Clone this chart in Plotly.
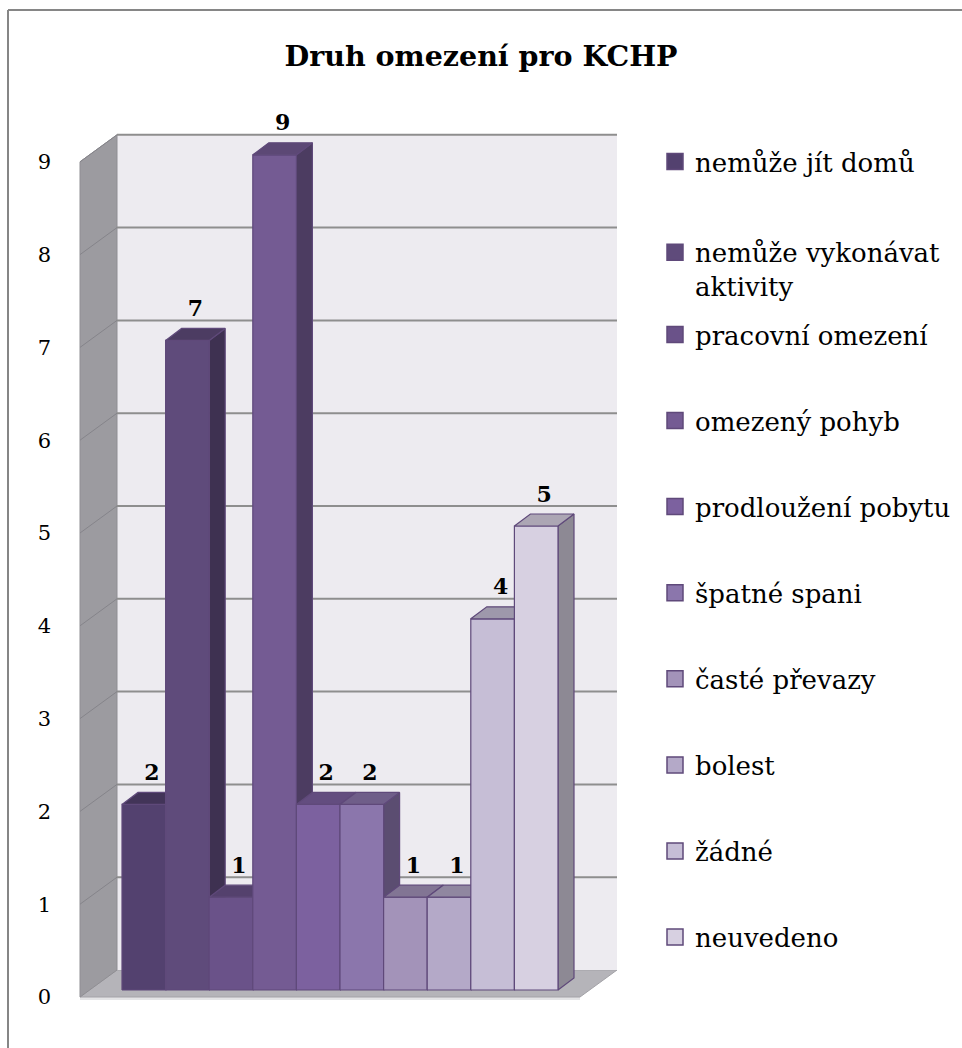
import textwrap
import plotly.graph_objects as go

# ---------------- data ----------------
TITLE = "Druh omezení pro KCHP"
CATEGORIES = [
    "nemůže jít domů",
    "nemůže vykonávat aktivity",
    "pracovní omezení",
    "omezený pohyb",
    "prodloužení pobytu",
    "špatné spani",
    "časté převazy",
    "bolest",
    "žádné",
    "neuvedeno",
]
VALUES = [2, 7, 1, 9, 2, 2, 1, 1, 4, 5]
Y_TICKS = list(range(0, 10))

# ---------------- style ----------------
COLORS = ["#53416F", "#5F4B7B", "#6A5289", "#745B93", "#7C619F",
          "#8B76AC", "#A393B9", "#B4A9C8", "#C6BED6", "#D7D0E1"]
OUTLINE = "#5F497A"
SERIF = "DejaVu Serif"
W, H = 962, 1048

# pixel geometry of the pseudo-3D projection
U0_PX, PX_U = 122.0, 43.6      # x pixel of u=0, pixels per bar slot
V0_PX, PX_V = 990.0, 92.8      # y pixel of v=0, pixels per value unit
ML, MR, MT, MB = 60, 322, 100, 38
PLOT_L, PLOT_R = ML, W - MR
PLOT_T, PLOT_B = MT, H - MB


def u_px(p):
    return (p - U0_PX) / PX_U


def v_px(p):
    return (V0_PX - p) / PX_V


DU, DV = 16 / PX_U, 12 / PX_V            # bar depth
FU, FV = -9.6 / PX_U, -7 / PX_V          # front plane of the box
BU, BV = 27.4 / PX_U, 20 / PX_V          # back plane of the box
UL = u_px(80) - FU                       # left end of the box
UR = u_px(580) - FU                      # right end of the box
VMAX = max(Y_TICKS)


def shade(hex_color, f):
    h = hex_color.lstrip("#")
    r, g, b = (int(h[i:i + 2], 16) for i in (0, 2, 4))
    return "#%02X%02X%02X" % (int(r * f), int(g * f), int(b * f))


def path(points):
    return "M " + " L ".join(f"{x},{y}" for x, y in points) + " Z"


fig = go.Figure()

# ---------------- walls & floor (shapes below the traces) ----------------
shapes = []
shapes.append(dict(type="path", xref="x", yref="y", layer="below",
                   path=path([(UL + FU, FV), (UR + FU, FV),
                              (UR + FU, FV - 3 / PX_V), (UL + FU, FV - 3 / PX_V)]),
                   fillcolor="#E4E4E6", line=dict(width=0)))
shapes.append(dict(type="path", xref="x", yref="y", layer="below",
                   path=path([(UL + FU, FV), (UR + FU, FV), (UR + BU, BV), (UL + BU, BV)]),
                   fillcolor="#B5B4B9", line=dict(color="#A3A2A7", width=1)))
shapes.append(dict(type="path", xref="x", yref="y", layer="below",
                   path=path([(UL + BU, BV), (UR + BU, BV), (UR + BU, VMAX + BV), (UL + BU, VMAX + BV)]),
                   fillcolor="#EDEBF0", line=dict(width=0)))
shapes.append(dict(type="path", xref="x", yref="y", layer="below",
                   path=path([(UL + FU, FV), (UL + BU, BV), (UL + BU, VMAX + BV), (UL + FU, VMAX + FV)]),
                   fillcolor="#9C9BA0", line=dict(color="#8F8E93", width=1)))
for k in Y_TICKS[1:]:
    shapes.append(dict(type="line", xref="x", yref="y", layer="below",
                       x0=UL + BU, x1=UR + BU, y0=k + BV, y1=k + BV,
                       line=dict(color="#8E8E8E", width=2)))
    shapes.append(dict(type="line", xref="x", yref="y", layer="below",
                       x0=UL + FU, x1=UL + BU, y0=k + FV, y1=k + BV,
                       line=dict(color="#85848A", width=1)))


def xp(p):
    return (p - PLOT_L) / (PLOT_R - PLOT_L)


def yp(p):
    return (PLOT_B - p) / (PLOT_B - PLOT_T)


# outer chart border (top and left)
shapes.append(dict(type="line", xref="paper", yref="paper",
                   x0=xp(8), x1=xp(W + 5), y0=yp(10), y1=yp(10),
                   line=dict(color="#868686", width=2)))
shapes.append(dict(type="line", xref="paper", yref="paper",
                   x0=xp(8), x1=xp(8), y0=yp(10), y1=yp(H + 5),
                   line=dict(color="#868686", width=2)))

# ---------------- 3D bars ----------------
for i, (name, val, col) in enumerate(zip(CATEGORIES, VALUES, COLORS)):
    x0, x1 = i, i + 1
    side = [(x1, 0), (x1 + DU, DV), (x1 + DU, val + DV), (x1, val), (x1, 0)]
    front = [(x0, 0), (x1, 0), (x1, val), (x0, val), (x0, 0)]
    top = [(x0, val), (x1, val), (x1 + DU, val + DV), (x0 + DU, val + DV), (x0, val)]
    for pts, f, hov in ((side, 0.66, False), (front, 1.0, True), (top, 0.8, False)):
        fig.add_trace(go.Scatter(
            x=[p[0] for p in pts], y=[p[1] for p in pts],
            mode="lines", fill="toself", fillcolor=shade(col, f),
            line=dict(color=OUTLINE, width=1.2),
            legendgroup=f"g{i}", showlegend=False,
            hoverinfo="text" if hov else "skip",
            hoveron="fills",
            text=f"{name}: {val}",
        ))

# data labels
fig.add_trace(go.Scatter(
    x=[i + 0.5 + DU / 2 for i in range(len(VALUES))],
    y=[v + 30 / PX_V for v in VALUES],
    mode="text", text=[str(v) for v in VALUES],
    textposition="middle center",
    textfont=dict(family=SERIF, size=22, color="#000000", weight="bold"),
    showlegend=False, hoverinfo="skip",
))

# legend entries
for i, (name, col) in enumerate(zip(CATEGORIES, COLORS)):
    fig.add_trace(go.Scatter(
        x=[None], y=[None], mode="markers",
        marker=dict(symbol="square", size=16, color=col,
                    line=dict(color=OUTLINE, width=1.5)),
        name="<br>".join(textwrap.wrap(name, 18)),
        legendgroup=f"g{i}",
        legend="legend" if i < 2 else "legend2",
    ))

legend_common = dict(
    font=dict(family=SERIF, size=26, color="#000000"),
    traceorder="grouped",
    xref="container", yref="container",
    xanchor="left", yanchor="top",
    bgcolor="rgba(0,0,0,0)", borderwidth=0, valign="top",
    itemclick=False, itemdoubleclick=False,
    maxheight=900,
)

fig.update_layout(
    width=W, height=H,
    margin=dict(l=ML, r=MR, t=MT, b=MB),
    paper_bgcolor="#FFFFFF", plot_bgcolor="rgba(0,0,0,0)",
    shapes=shapes,
    font=dict(family=SERIF),
    title=dict(text=TITLE, x=0.5, xref="container", xanchor="center",
               y=1 - 56 / H, yref="container", yanchor="middle",
               font=dict(family=SERIF, size=28.5, color="#000000", weight="bold")),
    xaxis=dict(range=[u_px(PLOT_L), u_px(PLOT_R)], visible=False, fixedrange=True),
    yaxis=dict(range=[v_px(PLOT_B), v_px(PLOT_T)],
               tickvals=[k + FV for k in Y_TICKS], ticktext=[str(k) for k in Y_TICKS],
               tickfont=dict(family=SERIF, size=21, color="#000000"),
               showgrid=False, zeroline=False, showline=False, ticks="",
               ticklabelstandoff=8, fixedrange=True),
    legend=dict(x=655 / W, y=1 - 138 / H, tracegroupgap=54, **legend_common),
    legend2=dict(x=655 / W, y=1 - 311 / H, tracegroupgap=49.3, **legend_common),
    showlegend=True,
)

fig.write_html("out.html")
